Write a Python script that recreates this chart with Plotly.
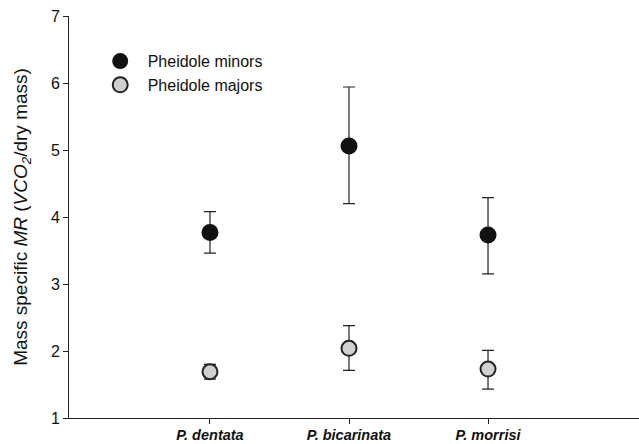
import plotly.graph_objects as go

species = ["P. dentata", "P. bicarinata", "P. morrisi"]
xpos = [1, 2, 3]
minors = [3.77, 5.06, 3.73]
minors_up = [4.08, 5.94, 4.29]
minors_lo = [3.46, 4.20, 3.15]
majors = [1.69, 2.04, 1.73]
majors_up = [1.80, 2.38, 2.01]
majors_lo = [1.58, 1.71, 1.43]

def plus(v, u):
    return [a - b for a, b in zip(u, v)]

def minus(v, l):
    return [b - a for a, b in zip(l, v)]

fig = go.Figure()
fig.add_trace(go.Scatter(
    x=xpos, y=minors, mode="markers", name="&nbsp;Pheidole minors",
    marker=dict(size=17, color="#111111", line=dict(width=0)),
    error_y=dict(type="data", symmetric=False, array=plus(minors, minors_up),
                 arrayminus=minus(minors, minors_lo), color="#222222", thickness=1.2, width=6),
))
fig.add_trace(go.Scatter(
    x=xpos, y=majors, mode="markers", name="&nbsp;Pheidole majors",
    marker=dict(size=15, color="#d0d0d0", line=dict(width=2, color="#222222")),
    error_y=dict(type="data", symmetric=False, array=plus(majors, majors_up),
                 arrayminus=minus(majors, majors_lo), color="#222222", thickness=1.2, width=6),
))

fig.update_layout(
    width=639, height=444,
    margin=dict(l=69, r=0, t=16, b=26),
    paper_bgcolor="white", plot_bgcolor="white",
    font=dict(family="Liberation Sans, Arial, sans-serif", size=16, color="#111111"),
    showlegend=True,
    legend=dict(x=0.0495, y=0.93, xanchor="left", yanchor="top", itemwidth=36,
                bgcolor="rgba(0,0,0,0)", font=dict(size=16)),
    xaxis=dict(range=[-0.014, 4.086], tickmode="array", tickvals=xpos,
               ticktext=["<b><i>%s</i></b>" % s for s in species],
               showgrid=False, zeroline=False, showline=True, linecolor="#222222",
               linewidth=1, ticks="outside", ticklen=5, tickcolor="#222222",
               tickfont=dict(size=14.5), ticklabelstandoff=-1, automargin=False),
    yaxis=dict(range=[1, 7], tickvals=[1, 2, 3, 4, 5, 6, 7], showgrid=False,
               zeroline=False, showline=True, linecolor="#222222", linewidth=1,
               ticks="outside", ticklen=5, tickcolor="#222222",
               tickfont=dict(size=16), automargin=False,
               title=dict(text="Mass specific <i>MR</i> (<i>VCO<sub>2</sub></i>/dry mass)",
                          font=dict(size=19), standoff=18)),
)

fig.write_html("out.html")
